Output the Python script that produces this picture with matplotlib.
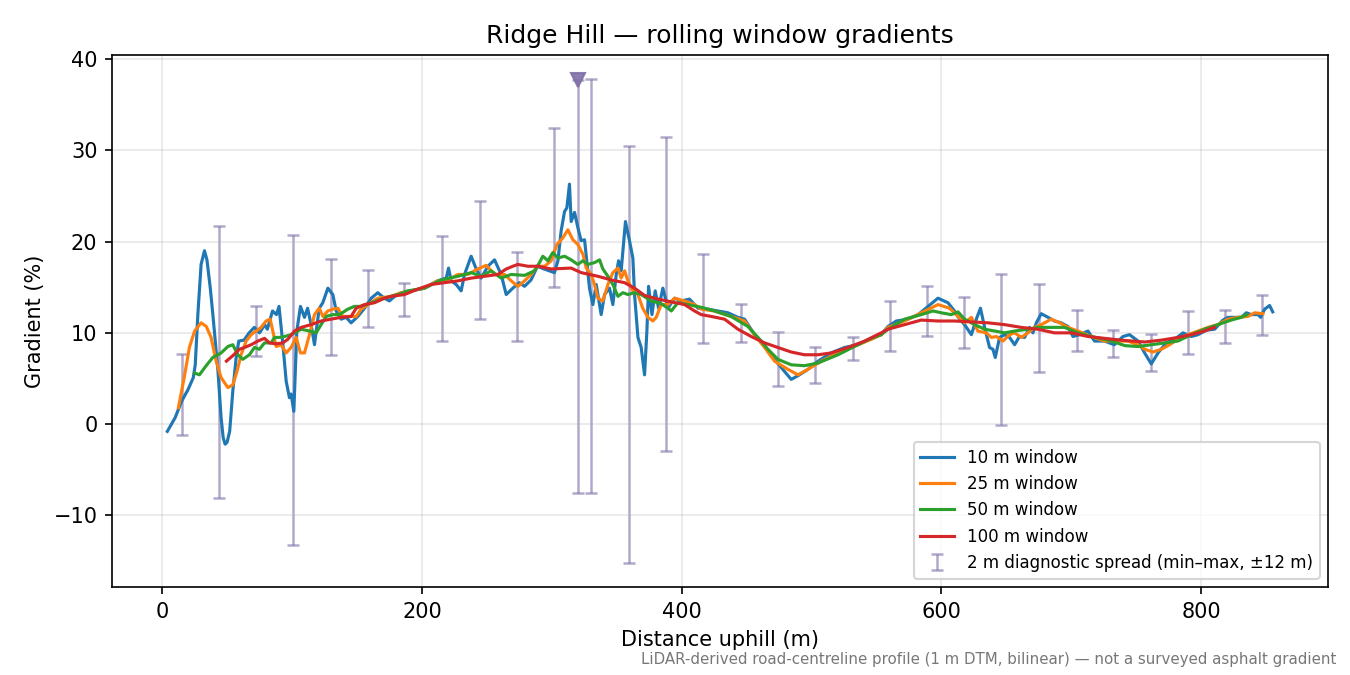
import numpy as np
import matplotlib
matplotlib.use("Agg")
import matplotlib.pyplot as plt

# 10 m rolling window (distance m, gradient %)
w10_x = [4, 10, 15, 20, 24, 25.5, 27.5, 30, 32.6, 34.5, 37, 39, 41, 43, 45.4, 47, 48.5,
         50, 52, 54.4, 57, 59, 63, 67, 71, 75, 79, 81, 85, 88, 90, 93, 95.5, 98, 99.3,
         101.4, 103.7, 106.5, 109.6, 112, 114.7, 117.3, 118.6, 121, 123.7, 127.6, 131.4,
         134, 137.8, 141.7, 145.5, 150.7, 155.8, 161, 166, 171, 175, 179, 184, 192, 202,
         212, 218.7, 220.5, 222.5, 226.4, 230.2, 232.8, 237.9, 241.8, 245.6, 250.8, 255.9,
         261, 264.9, 270, 275, 279, 284, 289, 294, 302, 304.7, 307.2, 309.8, 311.6, 313.6,
         314.9, 317.5, 320.1, 322.6, 325.2, 327.2, 329, 331.6, 334.2, 338, 340.6, 344.4,
         347, 349.6, 351.4, 353.4, 356.7, 359.8, 362.4, 363.7, 366.3, 368.8, 371.4, 373.2,
         374.5, 377.1, 379.6, 382.2, 385.5, 389.4, 394.5, 399.6, 406, 412.5, 416.3, 428,
         435.6, 443.3, 448.4, 456.1, 461.2, 469, 476.6, 484.3, 489.5, 497.2, 505, 515,
         525.4, 535.7, 546, 553.6, 558.8, 565.2, 574.2, 582, 589.6, 597.3, 605, 610, 614,
         617.8, 623, 626.8, 630, 633.2, 637, 639.6, 641.4, 644.7, 648.6, 652.4, 656.3,
         660, 664, 667.8, 670.4, 673, 676.8, 682, 687, 692, 697.4, 701.2, 706.3, 712.8,
         717.8, 725.5, 733, 739.7, 744.8, 751.3, 756.4, 761.5, 766.7, 773, 779.5, 786,
         792.3, 797.5, 804, 810.3, 816.7, 820.6, 827, 830.8, 834.7, 838.5, 843.7, 845.7,
         848.8, 852.6, 855]
w10_y = [-0.8, 0.7, 2.5, 3.8, 5.1, 6.5, 12.0, 17.5, 19.0, 18.0, 15.0, 12.1, 9.0, 5.8, 0.7,
         -1.5, -2.2, -2.0, -0.8, 3.6, 7.3, 9.1, 9.2, 10.0, 10.6, 10.0, 10.9, 10.4, 12.4,
         12.0, 12.9, 8.7, 4.7, 2.9, 3.3, 1.4, 10.2, 12.9, 11.7, 12.7, 10.9, 8.7, 10.2,
         12.7, 13.3, 14.9, 14.2, 12.4, 11.5, 11.7, 11.1, 11.8, 12.7, 13.8, 14.4, 13.8,
         13.5, 14.0, 14.4, 14.6, 14.9, 15.7, 16.0, 17.1, 15.7, 15.3, 14.6, 16.4, 18.4,
         17.0, 16.0, 17.3, 18.0, 16.4, 14.2, 14.9, 15.5, 15.1, 15.8, 17.3, 17.0, 16.6,
         17.9, 21.2, 23.3, 23.7, 26.3, 22.2, 23.2, 21.5, 20.1, 20.2, 17.5, 14.9, 13.1,
         15.3, 12.0, 14.2, 14.9, 13.1, 16.4, 17.9, 16.8, 22.2, 20.1, 18.2, 14.2, 9.5,
         8.4, 5.4, 10.2, 15.1, 12.0, 14.6, 12.7, 14.9, 12.7, 13.8, 13.5, 13.7, 12.7,
         12.7, 12.4, 12.2, 11.7, 11.5, 9.8, 9.1, 7.5, 6.2, 4.9, 5.3, 6.0, 6.9, 7.8, 8.4,
         8.7, 9.4, 9.8, 10.7, 11.3, 11.5, 12.0, 12.9, 13.8, 13.3, 12.4, 11.5, 10.9, 9.8,
         11.5, 12.7, 10.6, 8.4, 8.2, 7.3, 9.5, 9.8, 9.5, 8.7, 9.6, 9.5, 10.6, 10.0,
         11.1, 12.1, 11.7, 11.3, 11.1, 10.7, 9.6, 9.8, 10.2, 9.1, 9.1, 8.7, 9.6, 9.8,
         9.1, 7.8, 6.6, 7.8, 8.9, 9.3, 10.0, 9.6, 9.8, 10.3, 10.4, 11.4, 11.7, 11.7,
         11.7, 12.2, 12.0, 12.0, 11.7, 12.6, 13.0, 12.3]

# 25 m rolling window
w25_x = [12.5, 17, 21, 25, 30, 34, 37.7, 41.6, 45.4, 50.6, 54.4, 57.7, 60.8, 64.7, 68.5,
         72.4, 76.2, 80, 83.2, 85.2, 87.8, 91.6, 95.5, 99.3, 103.2, 106.5, 109.6, 113.4,
         117.3, 121, 123.7, 127.6, 131.4, 135.3, 139, 144, 149.4, 153.2, 158.4, 166,
         176, 184, 202, 212, 220, 227.7, 235.4, 243, 249.5, 256, 263.6, 268.7, 274,
         279, 284, 289.3, 294.4, 299.5, 304, 308.5, 312.4, 316.2, 320, 324, 326.5,
         330.3, 332.9, 335.5, 339.3, 343.2, 347, 350.9, 353.4, 356, 358.6, 362.4, 366.3,
         370, 374, 377.8, 380.4, 384.2, 389.4, 394.5, 402, 410, 415, 425, 438, 448.4,
         456, 463.8, 471.5, 481.8, 489.5, 497.2, 507.4, 520.3, 535.7, 546, 553.6, 558.8,
         571.6, 584.4, 597.3, 606.2, 612.7, 617.8, 623, 628, 634.5, 638.4, 642.2, 647.3,
         652.4, 656.3, 661.4, 666.6, 671.7, 676.8, 684.5, 691, 697.4, 705, 715.3, 725.5,
         735, 743.5, 751.3, 756.4, 762.8, 769.2, 775.6, 782, 789.8, 797.5, 805.2, 812.8,
         820.6, 828.3, 836, 841, 847.5]
w25_y = [1.8, 5.1, 8.4, 10.2, 11.1, 10.7, 9.5, 6.9, 5.1, 4.0, 4.3, 5.8, 7.6, 9.1, 9.8,
         10.2, 10.6, 11.3, 11.5, 10.2, 8.5, 8.7, 7.8, 8.4, 9.5, 7.8, 7.8, 9.8, 12.0,
         12.7, 11.8, 12.4, 12.6, 12.7, 11.8, 11.8, 11.8, 12.6, 13.1, 13.8, 14.0, 14.4,
         14.9, 15.7, 15.8, 16.4, 16.4, 17.0, 17.4, 16.4, 16.4, 15.7, 15.1, 15.7, 16.4,
         17.3, 17.3, 17.9, 19.7, 20.4, 21.3, 20.2, 19.7, 18.6, 17.1, 16.4, 15.3, 13.8,
         13.5, 15.3, 16.6, 17.1, 16.0, 16.8, 15.7, 14.6, 14.2, 12.7, 11.7, 11.3, 11.7,
         13.1, 13.1, 13.8, 13.5, 13.1, 12.6, 12.4, 11.8, 11.3, 9.8, 8.4, 6.9, 6.0, 5.4,
         6.0, 6.9, 7.8, 8.7, 9.3, 9.8, 10.6, 11.3, 12.2, 13.1, 12.7, 11.8, 11.1, 11.7,
         10.2, 10.0, 9.5, 9.6, 9.1, 9.8, 10.0, 9.5, 10.0, 10.6, 10.9, 11.5, 11.1, 10.6,
         10.2, 9.6, 9.1, 9.1, 9.1, 8.7, 8.2, 7.9, 8.2, 8.7, 9.3, 9.8, 10.2, 10.6, 10.9,
         11.5, 11.7, 11.8, 12.2, 12.1]

# 50 m rolling window
w50_x = [25, 28.7, 33.9, 39, 45.4, 50.6, 54.4, 58.3, 62.1, 67.2, 71.1, 74.9, 78.8, 83.9,
         86.5, 90.3, 94.2, 99.3, 104.5, 107, 113.4, 118.6, 122.4, 126.3, 131.4, 136.5,
         143, 148, 153, 161, 171, 184, 189, 202, 215, 227.7, 238, 245.6, 253.3, 261,
         268.7, 279, 286.7, 290.5, 293.1, 297, 300.8, 304.7, 309.8, 314.9, 320, 324,
         327.8, 332.9, 336.8, 339.3, 343.2, 347, 350.9, 354.7, 358.6, 363.7, 368.8,
         376.5, 384.2, 389.4, 392, 397, 404.8, 415, 425.3, 438, 451, 458.7, 466.4, 474,
         484.3, 494.5, 505, 520.3, 535.7, 546, 553.6, 558.8, 571.6, 584.4, 593.4, 599.8,
         607.5, 612.7, 617.8, 625.5, 633.2, 641, 648.6, 656.3, 666.6, 674.2, 684.5, 694.7,
         705, 715.3, 725.5, 733, 741.2, 751.3, 761.5, 771.8, 782, 792.3, 802.6, 812.8,
         823, 830.8, 835]
w50_y = [5.6, 5.4, 6.4, 7.3, 7.8, 8.5, 8.7, 7.6, 7.1, 7.6, 8.4, 8.2, 8.9, 8.9, 9.5, 9.5,
         9.6, 9.8, 10.2, 10.4, 10.2, 10.0, 10.9, 11.8, 12.0, 12.0, 12.6, 12.9, 12.9,
         13.3, 13.8, 14.3, 14.6, 14.9, 15.8, 16.2, 16.6, 16.2, 16.8, 16.0, 16.4, 16.3,
         16.8, 17.7, 18.4, 17.9, 18.8, 18.2, 18.4, 18.0, 17.5, 17.9, 17.5, 17.7, 18.0,
         17.0, 16.2, 15.3, 14.0, 14.4, 14.2, 14.4, 14.2, 13.5, 13.2, 12.7, 12.4, 13.3,
         13.1, 12.8, 12.4, 11.8, 10.7, 9.5, 8.2, 7.1, 6.5, 6.4, 6.7, 7.6, 8.7, 9.4, 9.8,
         10.4, 11.5, 12.0, 12.4, 12.2, 12.0, 12.3, 11.5, 10.9, 10.4, 10.2, 10.0, 10.2,
         10.4, 10.6, 10.6, 10.6, 10.0, 9.6, 9.3, 9.0, 8.6, 8.5, 8.7, 8.9, 9.1, 9.8, 10.4,
         10.9, 11.4, 11.7, 12.0]

# 100 m rolling window
w100_x = [49.5, 54.4, 59.5, 63.4, 68.5, 73.7, 78.8, 82.6, 87.8, 92.9, 96.8, 101.9, 107,
          114.7, 122.4, 130, 137.8, 145.5, 149.4, 155.8, 163.5, 171.2, 176.3, 186.6,
          196.9, 207, 217.4, 227.7, 238, 248.2, 258.5, 264.9, 270, 273.9, 281.6, 289.3,
          299.5, 314.9, 322.6, 335.5, 345.7, 356, 363.7, 371.4, 381.7, 391.9, 402.2,
          409.9, 415, 422.7, 433, 443.3, 453.5, 463.8, 474, 484.3, 494.5, 505, 515.1,
          528, 540.8, 553.6, 558.8, 571.6, 584.4, 597.3, 610, 623, 635.8, 648.6, 661.4,
          674.2, 687, 700, 712.8, 725.5, 738.4, 756.4, 769.2, 782, 792.3, 802.6, 810]
w100_y = [6.9, 7.5, 8.2, 8.4, 8.7, 9.1, 9.4, 8.9, 8.8, 8.9, 9.3, 10.2, 10.6, 10.9, 11.3,
          11.5, 11.7, 11.8, 12.7, 13.1, 13.3, 13.8, 14.0, 14.2, 14.8, 15.3, 15.5, 15.7,
          16.0, 16.2, 16.4, 17.0, 17.3, 17.5, 17.3, 17.3, 17.0, 17.1, 16.6, 16.2, 15.8,
          15.5, 14.9, 14.1, 13.7, 13.4, 13.1, 12.4, 12.0, 11.8, 11.5, 10.4, 9.6, 8.9,
          8.4, 7.9, 7.6, 7.6, 7.8, 8.4, 9.1, 10.0, 10.4, 10.9, 11.4, 11.3, 11.3, 11.2,
          11.1, 10.9, 10.6, 10.4, 10.0, 10.0, 9.6, 9.4, 9.2, 9.0, 9.2, 9.5, 9.8, 10.2,
          10.6]

# 2 m diagnostic spread (min / max within +-12 m)
spread_x = [15, 44, 72, 101, 130, 158.5, 186.5, 215.5, 244.5, 273, 302, 320.5, 330, 359.5,
            388, 416.5, 446, 474.5, 503, 531.5, 560.5, 589, 617.5, 646, 675, 704, 732,
            761, 790, 818.5, 847]
spread_lo = [-1.2, -8.1, 7.5, -13.2, 7.6, 10.6, 11.9, 9.1, 11.5, 9.1, 15.0, -7.6, -7.6,
             -15.2, -2.9, 8.9, 9.0, 4.2, 4.5, 7.0, 8.0, 9.7, 8.3, -0.1, 5.7, 8.0, 7.4,
             5.8, 7.7, 8.9, 9.8]
spread_hi = [7.7, 21.7, 12.9, 20.7, 18.1, 16.9, 15.5, 20.6, 24.5, 18.9, 32.4, 37.7, 37.8,
             30.5, 31.5, 18.6, 13.2, 10.1, 8.5, 9.6, 13.5, 15.1, 13.9, 16.5, 15.3, 12.5,
             10.3, 9.9, 12.4, 12.5, 14.2]

# steepest 2 m sample
peak_x = 320.5
peak_y = 37.7

plt.rcParams.update({"font.family": ["DejaVu Sans"]})

fig = plt.figure(figsize=(9, 4.5), dpi=150)
ax = fig.add_axes([0.083, 0.1304, 0.9007, 0.7881])

lo = np.array(spread_lo)
hi = np.array(spread_hi)
mid = (lo + hi) / 2
ax.errorbar(spread_x, mid, yerr=(hi - lo) / 2, fmt="none", ecolor="#7f6fa8",
            elinewidth=1.2, capsize=3, capthick=1.2, alpha=0.6, zorder=1,
            label="2 m diagnostic spread (min\u2013max, \u00b112 m)")
ax.plot([peak_x], [peak_y], marker="v", markersize=7, color="#7f6fa8", alpha=0.9,
        linestyle="none", zorder=4)

ax.plot(w10_x, w10_y, color="C0", lw=1.5, label="10 m window", zorder=3)
ax.plot(w25_x, w25_y, color="C1", lw=1.5, label="25 m window", zorder=3)
ax.plot(w50_x, w50_y, color="C2", lw=1.5, label="50 m window", zorder=3)
ax.plot(w100_x, w100_y, color="C3", lw=1.5, label="100 m window", zorder=3)

ax.set_title("Ridge Hill \u2014 rolling window gradients", fontsize=12)
ax.set_xlabel("Distance uphill (m)")
ax.set_ylabel("Gradient (%)")
ax.grid(True, alpha=0.3)

handles, labels = ax.get_legend_handles_labels()
# errorbar entry goes last
order = [labels.index(l) for l in ["10 m window", "25 m window", "50 m window",
                                    "100 m window"]]
order.append(labels.index("2 m diagnostic spread (min\u2013max, \u00b112 m)"))
ax.legend([handles[i] for i in order], [labels[i] for i in order],
          loc="lower right", fontsize=8)

fig.text(0.9896, 0.012, "LiDAR-derived road-centreline profile (1 m DTM, bilinear) "
         "\u2014 not a surveyed asphalt gradient",
         ha="right", va="bottom", fontsize=7.2, color="#777777")

fig.savefig("out.png", dpi=150)
